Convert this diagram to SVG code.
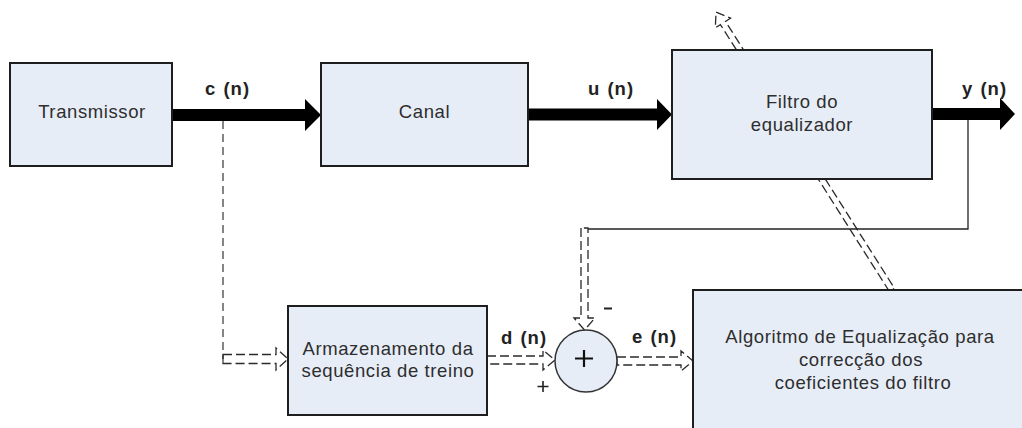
<svg xmlns="http://www.w3.org/2000/svg" width="1022" height="428" viewBox="0 0 1022 428">
  <defs>
    <style>
      .box { fill: #e7edf7; stroke: #1e1e1e; stroke-width: 2; }
      .sum { fill: #e7edf7; stroke: #333; stroke-width: 1.5; }
      .txt { font-family: "Liberation Sans", Arial, sans-serif; font-size: 18.5px; letter-spacing: 0.6px; fill: #2e2e2e; text-anchor: middle; }
      .lbl { font-family: "Liberation Sans", Arial, sans-serif; font-size: 18.5px; font-weight: bold; letter-spacing: 1px; word-spacing: 1px; fill: #222; }
      .thick { fill: #000; }
      .hollow { fill: none; stroke: #2a2a2a; stroke-width: 1.3; stroke-dasharray: 9 4; }
      .dash { fill: none; stroke: #444; stroke-width: 1.3; stroke-dasharray: 8 5; }
      .wire { fill: none; stroke: #222; stroke-width: 1.3; }
    </style>
  </defs>
  <rect width="1022" height="428" fill="#fff"/>

  <g id="connectors">
    <!-- coefficient update arrow: from the algorithm block, across the filter -->
    <path class="hollow" transform="translate(892,290) rotate(-122.34)" d="M0,-3 L316,-3 L316,-9 L329,0 L316,9 L316,3 L0,3 Z"/>

    <!-- main signal path -->
    <path class="thick" d="M172,109 H305 V99 L321,115 L305,131 V121 H172 Z"/>
    <path class="thick" d="M528,108.5 H657 V99 L672,114.5 L657,130 V120.5 H528 Z"/>
    <path class="thick" d="M932,108 H1000 V98 L1015,114 L1000,130 V120 H932 Z"/>

    <!-- training sequence tap -->
    <path class="dash" d="M223,121 V363"/>
    <path class="hollow" d="M223,354.5 H276 V348 L288,359 L276,370 V363.5 H223 Z"/>

    <!-- d(n) and e(n) -->
    <path class="hollow" d="M487,356 H543 V350 L555,360 L543,370 V364 H487 Z"/>
    <path class="hollow" d="M617,357 H681 V351 L693,361 L681,371 V365 H617 Z"/>

    <!-- y(n) feedback to the summing junction -->
    <path class="wire" d="M968,120 V229 H588"/>
    <path class="hollow" d="M581,228 V318 H574 L584.5,330 L595,318 H588 V228 Z"/>
  </g>

  <g id="transmissor">
    <rect class="box" x="10" y="63" width="162" height="103"/>
    <text class="txt" x="92" y="118">Transmissor</text>
  </g>

  <g id="canal">
    <rect class="box" x="321" y="63" width="207" height="103"/>
    <text class="txt" x="424.5" y="118">Canal</text>
  </g>

  <g id="filtro">
    <rect class="box" x="672" y="50" width="260" height="129"/>
    <text class="txt" x="802" y="108">Filtro do</text>
    <text class="txt" x="802" y="131">equalizador</text>
  </g>

  <g id="armazenamento">
    <rect class="box" x="288" y="306" width="199" height="109"/>
    <text class="txt" x="388" y="355">Armazenamento da</text>
    <text class="txt" x="388" y="377">sequência de treino</text>
  </g>

  <g id="somador">
    <circle class="sum" cx="586" cy="361" r="31"/>
    <path d="M584,350 V367 M575,358.5 H593" stroke="#111" stroke-width="2.2"/>
  </g>

  <g id="algoritmo">
    <rect class="box" x="693" y="290" width="340" height="150"/>
    <text class="txt" x="860" y="343">Algoritmo de Equalização para</text>
    <text class="txt" x="861" y="366">correcção dos</text>
    <text class="txt" x="863" y="389">coeficientes do filtro</text>
  </g>

  <g id="labels">
    <text class="lbl" x="205" y="95">c (n)</text>
    <text class="lbl" x="588" y="95">u (n)</text>
    <text class="lbl" x="962" y="95">y (n)</text>
    <text class="lbl" x="501" y="344">d (n)</text>
    <text class="lbl" x="632" y="343">e (n)</text>
    <path d="M604,308.5 H612" stroke="#222" stroke-width="2"/>
    <path d="M543,381 V392 M537.5,386.5 H548.5" stroke="#222" stroke-width="1.6"/>
  </g>
</svg>
